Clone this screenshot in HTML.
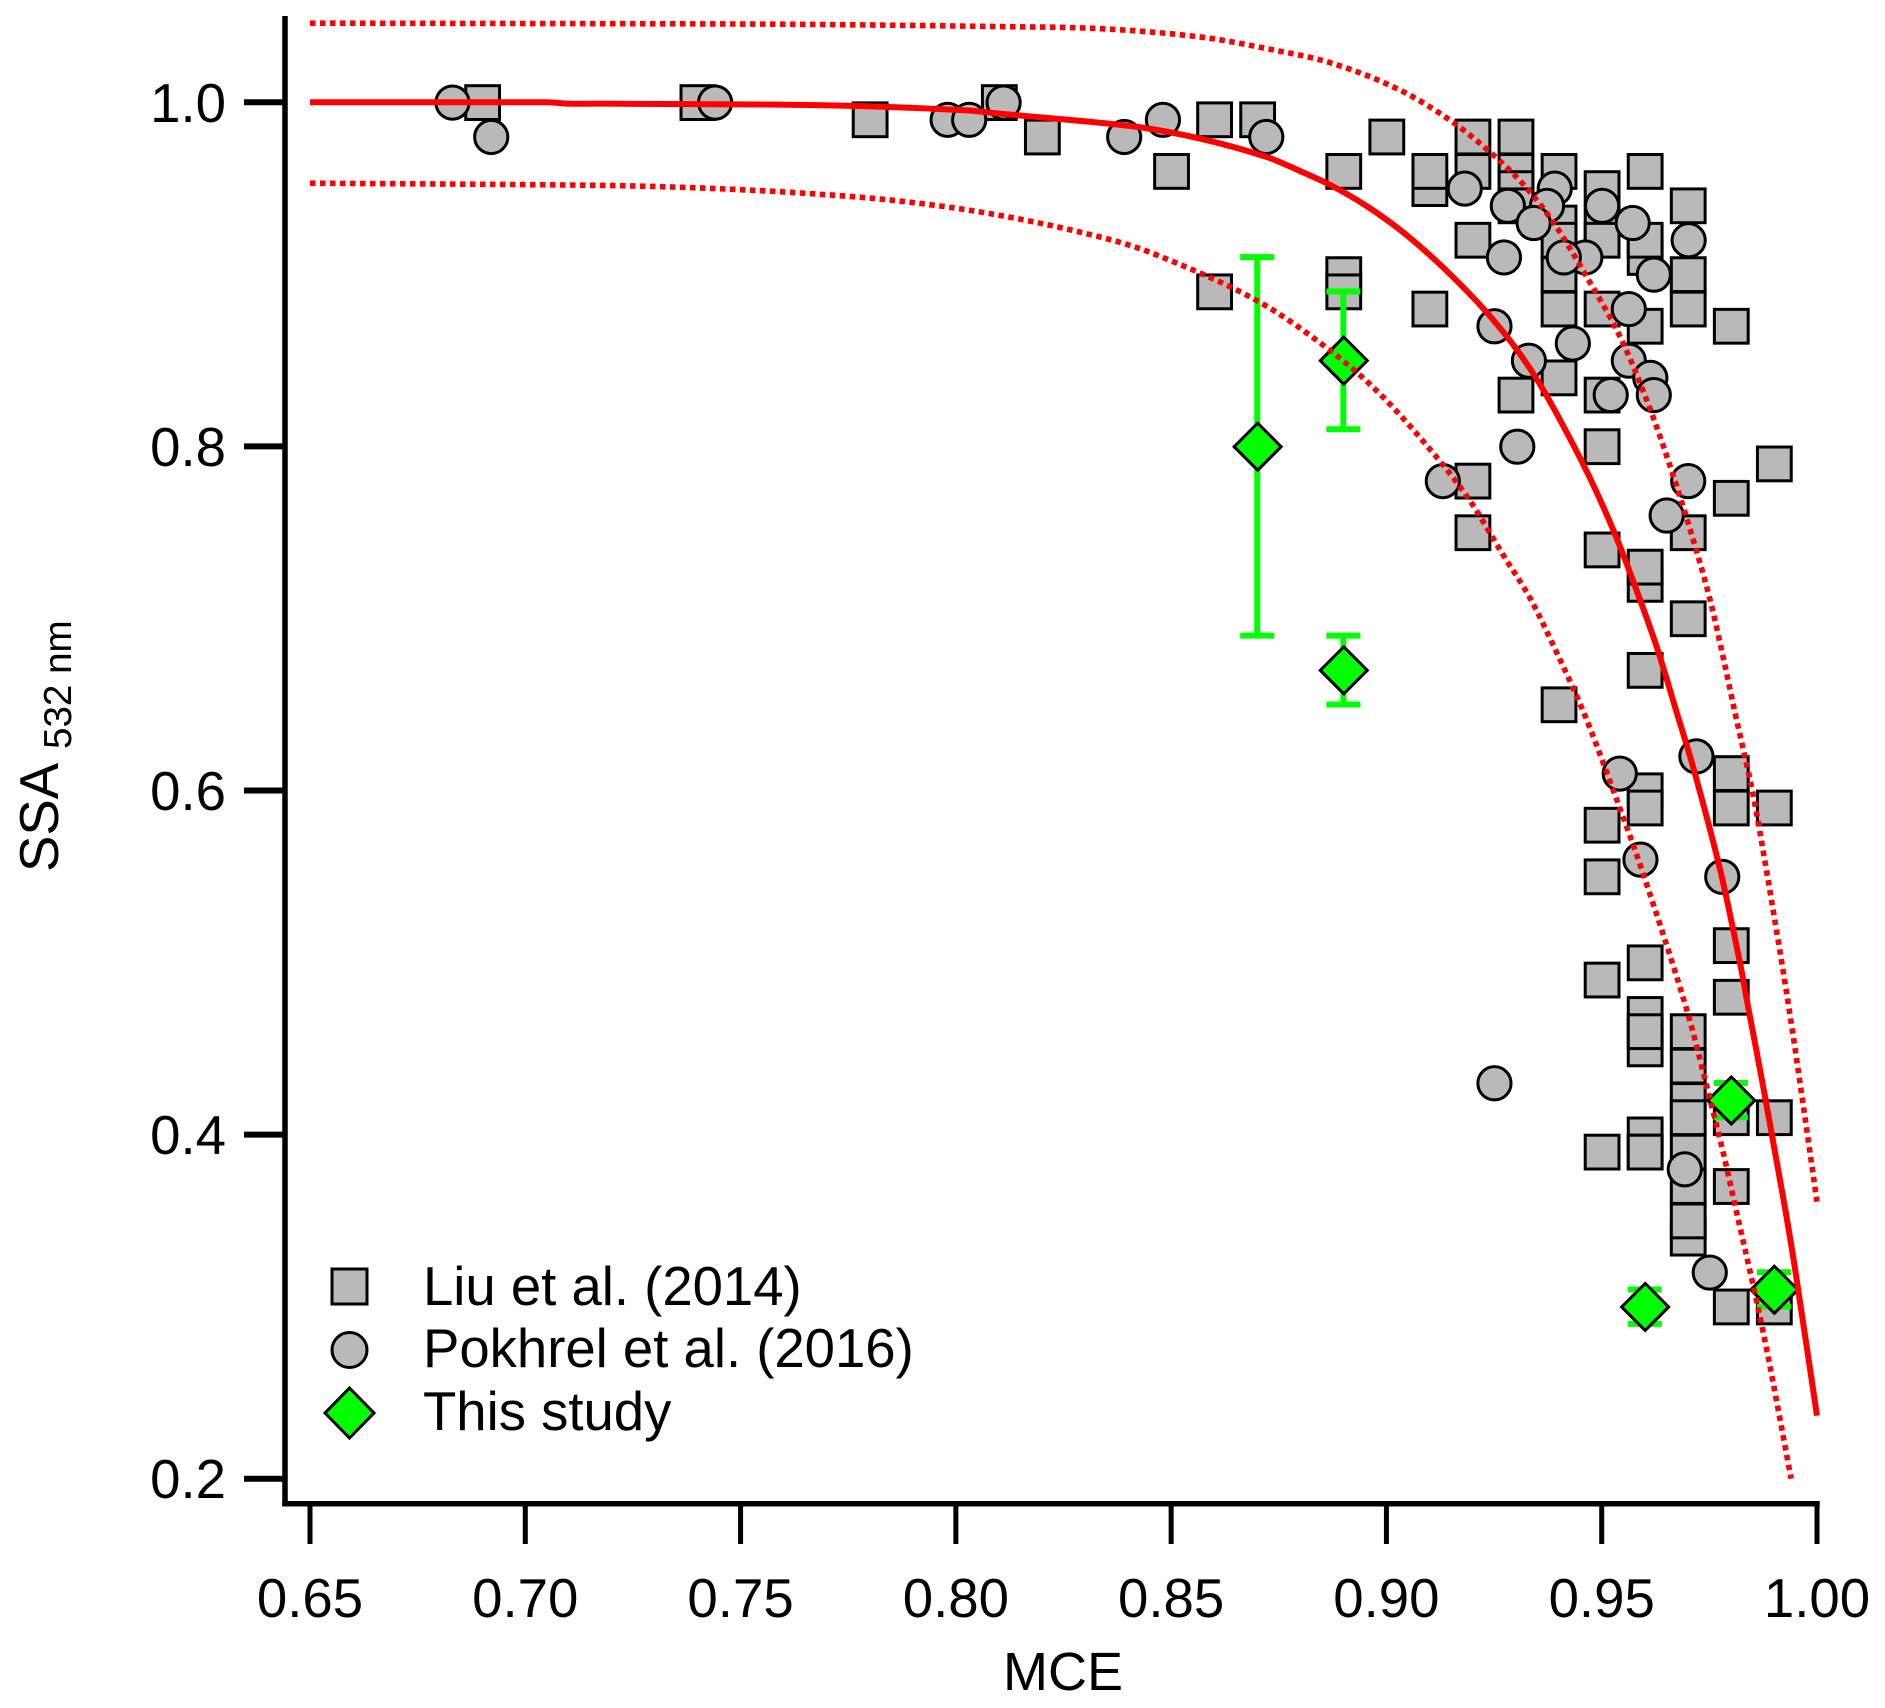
<!DOCTYPE html>
<html>
<head>
<meta charset="utf-8">
<title>SSA vs MCE</title>
<style>
html,body{margin:0;padding:0;background:#fff;}
svg{display:block;}
text{font-family:"Liberation Sans",Arial,sans-serif;fill:#000;}
</style>
</head>
<body>
<svg id="chart" xmlns="http://www.w3.org/2000/svg" width="1885" height="1708" viewBox="0 0 1885 1708">
<rect x="0" y="0" width="1885" height="1708" fill="#ffffff"/>
<g id="series"></g>
<g id="axes">
<line x1="285" y1="16" x2="285" y2="1506.5" stroke="#000" stroke-width="5.5"/>
<line x1="282.2" y1="1503.7" x2="1819.7" y2="1503.7" stroke="#000" stroke-width="5.5"/>
</g>
<text x="1003" y="1690" font-size="54">MCE</text>
<text transform="translate(58,872) rotate(-90)" font-size="54.5">SSA</text>
<text transform="translate(71,749) rotate(-90)" font-size="38.6">532 nm</text>
<g>
<rect x="332" y="1269" width="35" height="35" fill="#b9b9b9" stroke="#000" stroke-width="3"/>
<text x="423" y="1305" font-size="54.5">Liu et al. (2014)</text>
<circle cx="349.5" cy="1350" r="17.5" fill="#b9b9b9" stroke="#000" stroke-width="3"/>
<text x="423" y="1367" font-size="54.5">Pokhrel et al. (2016)</text>
<polygon points="349.5,1388 374,1413 349.5,1438 325,1413" fill="#00ff00" stroke="#000" stroke-width="3"/>
<text x="423" y="1430" font-size="54.5">This study</text>
</g>
</svg>
<script>
var xTicks = ["0.65","0.70","0.75","0.80","0.85","0.90","0.95","1.00"];
var yTicks = ["0.2","0.4","0.6","0.8","1.0"];

var liuX = [0.69,0.74,0.78,0.81,0.82,0.85,0.86,0.86,0.87,0.89,0.89,0.89,0.90,0.91,0.91,0.91,0.92,0.92,0.92,0.92,0.92,0.93,0.93,0.93,0.93,0.93,0.94,0.94,0.94,0.94,0.94,0.94,0.94,0.95,0.95,0.95,0.95,0.95,0.95,0.95,0.95,0.95,0.95,0.95,0.96,0.96,0.96,0.96,0.96,0.96,0.96,0.96,0.96,0.96,0.96,0.96,0.96,0.96,0.96,0.96,0.97,0.97,0.97,0.97,0.97,0.97,0.97,0.97,0.97,0.97,0.97,0.97,0.97,0.98,0.98,0.98,0.98,0.98,0.98,0.98,0.98,0.98,0.99,0.99,0.99,0.99];
var liuY = [1.00,1.00,0.99,1.00,0.98,0.96,0.99,0.89,0.99,0.96,0.90,0.89,0.98,0.95,0.96,0.88,0.98,0.96,0.92,0.78,0.75,0.98,0.96,0.95,0.94,0.83,0.96,0.93,0.92,0.90,0.88,0.84,0.65,0.95,0.93,0.92,0.88,0.83,0.80,0.74,0.58,0.55,0.49,0.39,0.96,0.91,0.92,0.87,0.72,0.73,0.67,0.60,0.59,0.50,0.45,0.47,0.46,0.40,0.39,0.39,0.94,0.90,0.88,0.75,0.70,0.34,0.35,0.37,0.39,0.42,0.41,0.44,0.46,0.87,0.77,0.61,0.59,0.51,0.48,0.41,0.37,0.30,0.79,0.59,0.41,0.30];

var pokhrelX = [0.683,0.692,0.744,0.798,0.803,0.811,0.839,0.848,0.872,0.9181,0.9281,0.939,0.9372,0.9341,0.950,0.9571,0.9701,0.962,0.9461,0.9411,0.9272,0.9562,0.925,0.933,0.9432,0.9562,0.9612,0.962,0.952,0.9303,0.913,0.970,0.965,0.9541,0.9719,0.9779,0.9589,0.9692,0.925,0.975];
var pokhrelY = [1.00,0.98,1.00,0.99,0.99,1.00,0.98,0.99,0.98,0.95,0.94,0.95,0.94,0.93,0.94,0.93,0.92,0.90,0.91,0.91,0.91,0.88,0.87,0.85,0.86,0.85,0.84,0.83,0.83,0.80,0.78,0.78,0.76,0.61,0.62,0.55,0.56,0.38,0.43,0.32];

var studyX = [0.87,0.89,0.89,0.96,0.98,0.99];
var studyY = [0.80,0.85,0.67,0.30,0.42,0.31];
var studyLow = [0.69,0.81,0.65,0.29,0.41,0.30];
var studyHigh = [0.91,0.89,0.69,0.31,0.43,0.32];

var fitX = [0.65,0.705,0.71,0.7174,0.756,0.7793,0.8025,0.8102,0.8412,0.8567,0.8722,0.8799,0.8877,0.8954,0.9032,0.9109,0.9186,0.9241,0.9303,0.9357,0.9419,0.948,0.9535,0.9581,0.9628,0.9674,0.9713,0.9775,0.9821,0.9841,0.9875,0.9903,0.9926,0.9949,1.0];
var fitY = [1.0,1.0,0.9992,0.9992,0.9987,0.9977,0.9953,0.9934,0.986,0.9789,0.9682,0.9601,0.951,0.9397,0.9258,0.9093,0.8905,0.8756,0.8562,0.8359,0.808,0.7778,0.7465,0.7163,0.6833,0.6455,0.613,0.554,0.50,0.473,0.428,0.389,0.357,0.322,0.2366];

var upperX = [0.65,0.7174,0.7638,0.8102,0.8335,0.8567,0.8722,0.8876,0.9032,0.9159,0.9263,0.9333,0.9395,0.9457,0.9543,0.9612,0.9667,0.9713,0.9752,0.9782,0.981,0.9852,0.9883,0.9922,0.9949,1.0];
var upperY = [1.046,1.0457,1.0453,1.044,1.0428,1.038,1.0312,1.0225,1.007,0.9876,0.966,0.948,0.9275,0.902,0.8636,0.822,0.7822,0.7453,0.7105,0.6775,0.6447,0.597,0.553,0.494,0.45,0.361];

var lowerX = [0.65,0.7174,0.7406,0.7638,0.787,0.8102,0.8335,0.8463,0.8698,0.8869,0.8992,0.9124,0.9198,0.9271,0.9334,0.9395,0.9461,0.9527,0.9597,0.9697,0.9744,0.9783,0.9806,0.9875,0.994];
var lowerY = [0.953,0.9517,0.9502,0.9473,0.9426,0.9343,0.9217,0.9116,0.8849,0.8558,0.8287,0.7915,0.7669,0.7369,0.7116,0.6804,0.6436,0.60,0.551,0.473,0.428,0.3886,0.363,0.2852,0.20];

function xScale(v){ return 310 + (v - 0.65) * 4305.7; }
function yScale(v){ return 102.3 + (1 - v) * 1720.5; }

var NS = "http://www.w3.org/2000/svg";
var series = document.getElementById("series");
var axes = document.getElementById("axes");
var MARKER_FILL = "#b9b9b9";

function mk(tag, attrs, parent){
  var el = document.createElementNS(NS, tag);
  for (var k in attrs) el.setAttribute(k, attrs[k]);
  parent.appendChild(el);
  return el;
}
function pathFrom(xs, ys){
  var px = xs.map(xScale), py = ys.map(yScale), n = px.length;
  var d = "M" + px[0].toFixed(2) + " " + py[0].toFixed(2);
  for (var i = 0; i < n - 1; i++){
    var a = Math.max(i - 1, 0), b = Math.min(i + 2, n - 1);
    var h = px[i + 1] - px[i];
    var m0 = (py[i + 1] - py[a]) / (px[i + 1] - px[a]);
    var m1 = (py[b] - py[i]) / (px[b] - px[i]);
    d += "C" + (px[i] + h / 3).toFixed(2) + " " + (py[i] + m0 * h / 3).toFixed(2) + " " +
         (px[i + 1] - h / 3).toFixed(2) + " " + (py[i + 1] - m1 * h / 3).toFixed(2) + " " +
         px[i + 1].toFixed(2) + " " + py[i + 1].toFixed(2);
  }
  return d;
}

xTicks.forEach(function(t){
  var px = xScale(parseFloat(t));
  var tick = mk("line", {x1:px, x2:px, y1:1504, y2:1544, stroke:"#000", "stroke-width":5}, axes);
  
  
  var lab = mk("text", {x:px, y:1617, "font-size":54.6, "text-anchor":"middle"}, axes);
  
  
  lab.textContent = t;
});
yTicks.forEach(function(t){
  var py = yScale(parseFloat(t));
  var tick = mk("line", {x1:244, x2:285, y1:py, y2:py, stroke:"#000", "stroke-width":6}, axes);
  
  
  var lab = mk("text", {x:226, y:py + 19.5, "font-size":54.6, "text-anchor":"end"}, axes);
  
  
  lab.textContent = t;
});

liuX.forEach(function(v, i){
  var r = mk("rect", {x:xScale(v) - 16.9 + 0.4, y:yScale(liuY[i]) - 16.9 + 0.3, width:33.8, height:33.8, fill:MARKER_FILL, stroke:"#000", "stroke-width":3}, series);
  
  
});
pokhrelX.forEach(function(v, i){
  var c = mk("circle", {cx:xScale(v) + 0.4, cy:yScale(pokhrelY[i]) + 0.3, r:16.6, fill:MARKER_FILL, stroke:"#000", "stroke-width":3}, series);
  
  
});
studyX.forEach(function(v, i){
  var px = xScale(v), lo = yScale(studyLow[i]), hi = yScale(studyHigh[i]);
  var d = "M" + px + " " + lo + "L" + px + " " + hi +
          "M" + (px - 17) + " " + lo + "L" + (px + 17) + " " + lo +
          "M" + (px - 17) + " " + hi + "L" + (px + 17) + " " + hi;
  var e = mk("path", {d:d, fill:"none", stroke:"#00ff00", "stroke-width":6}, series);
  
  
});
studyX.forEach(function(v, i){
  var px = xScale(v) + 0.4, py = yScale(studyY[i]) + 0.3, h = 23.5;
  var pts = px + "," + (py - h) + " " + (px + h) + "," + py + " " + px + "," + (py + h) + " " + (px - h) + "," + py;
  var m = mk("polygon", {points:pts, fill:"#00ff00", stroke:"#000", "stroke-width":3}, series);
  
  
});

var fitLine = mk("path", {d:pathFrom(fitX, fitY), fill:"none", stroke:"#ff0000", "stroke-width":6, "stroke-linejoin":"round"}, series);


var upperLine = mk("path", {d:pathFrom(upperX, upperY), fill:"none", stroke:"#ff0000", "stroke-width":5.6, "stroke-dasharray":"5.5 4.5"}, series);


var lowerLine = mk("path", {d:pathFrom(lowerX, lowerY), fill:"none", stroke:"#ff0000", "stroke-width":5.6, "stroke-dasharray":"5.5 4.5"}, series);


</script>
</body>
</html>
